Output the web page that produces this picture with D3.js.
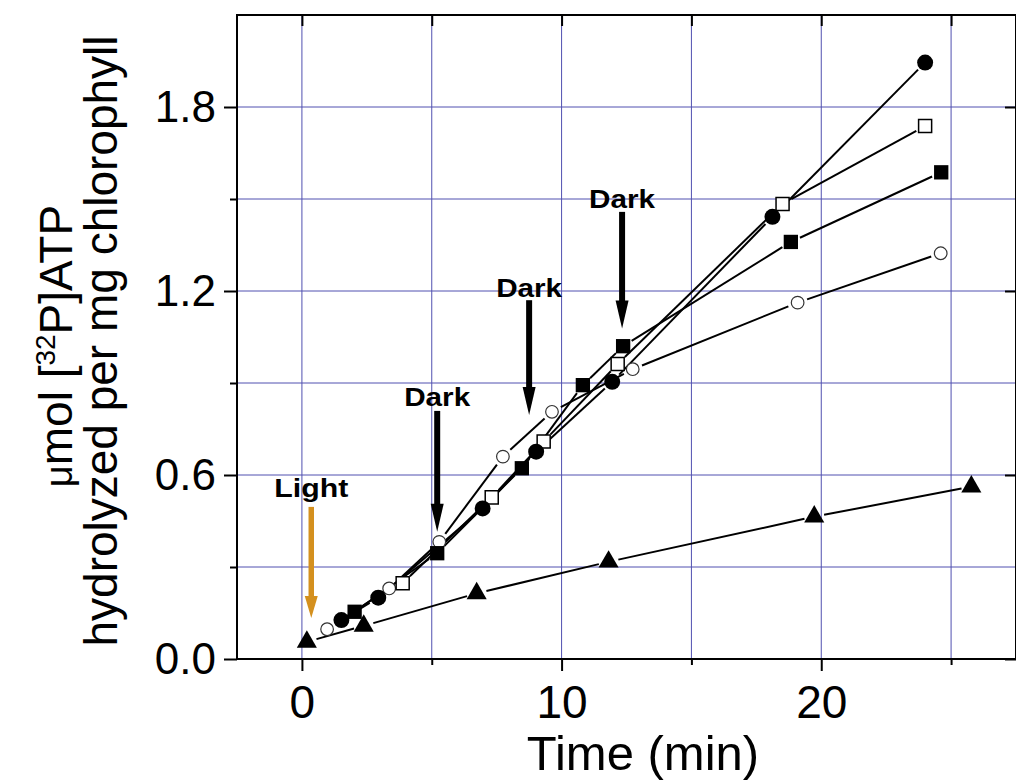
<!DOCTYPE html>
<html>
<head>
<meta charset="utf-8">
<title>ATP hydrolysis</title>
<script src="https://d3js.org/d3.v7.min.js"></script>
<style>
  html, body { margin: 0; padding: 0; background: #fff; }
  svg { display: block; }
  text { font-family: "Liberation Sans", Arial, sans-serif; fill: #000; }
</style>
</head>
<body>
<script>
  // data (time in min, umol per mg chlorophyll)
  var fCircX = [1.52, 2.94, 6.96, 9.02, 11.95, 18.12, 24.0];
  var fCircY = [0.127, 0.200, 0.491, 0.676, 0.904, 1.442, 1.945];

  var oSqX = [3.88, 7.31, 9.31, 12.16, 18.51, 24.0];
  var oSqY = [0.247, 0.527, 0.709, 0.962, 1.484, 1.738];

  var fSqX = [2.03, 5.21, 8.47, 10.82, 12.37, 18.83, 24.62];
  var fSqY = [0.154, 0.345, 0.622, 0.893, 1.020, 1.360, 1.587];

  var oCircX = [0.97, 3.36, 5.29, 7.74, 9.63, 12.74, 19.09, 24.6];
  var oCircY = [0.097, 0.230, 0.382, 0.660, 0.806, 0.945, 1.162, 1.323];

  var triX = [0.19, 2.38, 6.73, 11.81, 19.73, 25.78];
  var triY = [0.056, 0.108, 0.214, 0.317, 0.464, 0.562];

  var xMajor = [0, 10, 20];
  var xMinor = [5, 15, 25];
  var yMajor = [0, 0.6, 1.2, 1.8];
  var yMinor = [0.3, 0.9, 1.5];

  // arrows: label, x, arrow top, arrow tip, label baseline
  var arrLabel = ["Light", "Dark", "Dark", "Dark"];
  var arrX = [0.36, 5.21, 8.75, 12.33];
  var arrTop = [0.496, 0.809, 1.17, 1.458];
  var arrTip = [0.134, 0.415, 0.796, 1.078];
  var arrTextY = [0.528, 0.826, 1.18, 1.47];
  var arrColor = ["#d4901e", "#000", "#000", "#000"];

  var W = 1016, H = 780;
  var svg = d3.select("body").append("svg")
    .attr("width", W)
    .attr("height", H);

  var x = d3.scaleLinear().domain([-2.5, 27.5]).range([237, 1016]);
  var y = d3.scaleLinear().domain([0, 2.1]).range([659, 15]);

  // grid
  var gridColor = "#5050b0";
  svg.append("g").selectAll("line")
    .data(xMajor.concat(xMinor))
    .enter().append("line")
    .attr("x1", function (d) { return x(d); })
    .attr("x2", function (d) { return x(d); })
    .attr("y1", y(0)).attr("y2", y(2.1))
    .attr("stroke", gridColor).attr("stroke-width", 1);

  svg.append("g").selectAll("line")
    .data(yMajor.concat(yMinor).filter(function (d) { return d > 0; }))
    .enter().append("line")
    .attr("y1", function (d) { return y(d); })
    .attr("y2", function (d) { return y(d); })
    .attr("x1", x(-2.5)).attr("x2", x(27.5))
    .attr("stroke", gridColor).attr("stroke-width", 1);

  // axes
  function clean(g) {
    g.select(".domain").remove();
    g.selectAll(".tick line").attr("stroke", "#000").attr("stroke-width", 2);
  }

  svg.append("g").attr("transform", "translate(0," + y(0) + ")")
    .call(d3.axisBottom(x).tickValues(xMajor).tickSize(12).tickPadding(14).tickFormat(d3.format("d")))
    .call(clean)
    .selectAll("text").attr("font-size", 46).attr("font-family", "Liberation Sans, Arial, sans-serif");

  svg.append("g").attr("transform", "translate(0," + y(0) + ")")
    .call(d3.axisBottom(x).tickValues(xMinor).tickSize(6).tickFormat(""))
    .call(clean);

  svg.append("g").attr("transform", "translate(0," + y(2.1) + ")")
    .call(d3.axisTop(x).tickValues(xMajor.concat(xMinor)).tickSize(-11).tickFormat(""))
    .call(clean);

  svg.append("g").attr("transform", "translate(" + x(-2.5) + ",0)")
    .call(d3.axisLeft(y).tickValues(yMajor).tickSize(13).tickPadding(8).tickFormat(d3.format(".1f")))
    .call(clean)
    .selectAll("text").attr("font-size", 44).attr("font-family", "Liberation Sans, Arial, sans-serif");

  svg.append("g").attr("transform", "translate(" + x(-2.5) + ",0)")
    .call(d3.axisLeft(y).tickValues(yMinor).tickSize(7).tickFormat(""))
    .call(clean);

  svg.append("g").attr("transform", "translate(" + x(27.5) + ",0)")
    .call(d3.axisRight(y).tickValues(yMajor).tickSize(-11).tickFormat(""))
    .call(clean);

  // frame
  svg.append("rect")
    .attr("x", x(-2.5)).attr("y", y(2.1))
    .attr("width", x(27.5) - x(-2.5)).attr("height", y(0) - y(2.1))
    .attr("fill", "none").attr("stroke", "#000").attr("stroke-width", 2);

  // axis titles
  svg.append("text")
    .attr("x", 643).attr("y", 770)
    .attr("text-anchor", "middle")
    .attr("font-size", 49)
    .text("Time (min)");

  var t1 = svg.append("text")
    .attr("transform", "translate(72,346) rotate(-90)")
    .attr("text-anchor", "middle")
    .attr("font-size", 46);
  t1.append("tspan").attr("font-size", 38).text("\u03bc");
  t1.append("tspan").text("mol [");
  t1.append("tspan").attr("font-size", 28).attr("dy", -17).text("32");
  t1.append("tspan").attr("dy", 17).text("P]ATP");

  svg.append("text")
    .attr("transform", "translate(117,341) rotate(-90)")
    .attr("text-anchor", "middle")
    .attr("font-size", 46)
    .text("hydrolyzed per mg chlorophyll");

  // connecting lines, with a small gap at each marker
  var gap = 10;
  function drawLine(xs, ys) {
    var pts = xs.map(function (d, i) { return [x(d), y(ys[i])]; });
    var segs = [];
    for (var i = 0; i < pts.length - 1; i++) {
      var a = pts[i], b = pts[i + 1];
      var dx = b[0] - a[0], dy = b[1] - a[1];
      var len = Math.sqrt(dx * dx + dy * dy);
      if (len <= 2 * gap + 2) continue;
      var ux = dx / len, uy = dy / len;
      segs.push([a[0] + ux * gap, a[1] + uy * gap, b[0] - ux * gap, b[1] - uy * gap]);
    }
    svg.append("g").selectAll("line")
      .data(segs)
      .enter().append("line")
      .attr("x1", function (d) { return d[0]; })
      .attr("y1", function (d) { return d[1]; })
      .attr("x2", function (d) { return d[2]; })
      .attr("y2", function (d) { return d[3]; })
      .attr("stroke", "#000").attr("stroke-width", 2);
  }

  drawLine(triX, triY);
  drawLine(oCircX, oCircY);
  drawLine(fSqX, fSqY);
  drawLine(oSqX, oSqY);
  drawLine(fCircX, fCircY);

  // markers
  function drawMarks(xs, ys, type, size, fill, stroke, sw) {
    svg.append("g").selectAll("path")
      .data(xs.map(function (d, i) { return [d, ys[i]]; }))
      .enter().append("path")
      .attr("d", d3.symbol().type(type).size(size))
      .attr("transform", function (d) { return "translate(" + x(d[0]) + "," + y(d[1]) + ")"; })
      .attr("fill", fill)
      .attr("stroke", stroke)
      .attr("stroke-width", sw);
  }

  drawMarks(triX, triY, d3.symbolTriangle, 175, "#000", "none", 0);
  drawMarks(oCircX, oCircY, d3.symbolCircle, 125, "#fff", "#333", 1.2);
  drawMarks(fSqX, fSqY, d3.symbolSquare, 205, "#000", "none", 0);
  drawMarks(oSqX, oSqY, d3.symbolSquare, 170, "#fff", "#000", 1.5);
  drawMarks(fCircX, fCircY, d3.symbolCircle, 200, "#000", "none", 0);

  // Light / Dark arrows
  arrLabel.forEach(function (lab, i) {
    var px = x(arrX[i]);
    var top = y(arrTop[i]);
    var tip = y(arrTip[i]);
    var headH = i === 0 ? 22 : 28;
    svg.append("line")
      .attr("x1", px).attr("x2", px)
      .attr("y1", top).attr("y2", tip - headH + 2)
      .attr("stroke", arrColor[i]).attr("stroke-width", i === 0 ? 5.5 : 6);
    svg.append("path")
      .attr("d", "M" + (px - 6.5) + "," + (tip - headH) + "L" + (px + 6.5) + "," + (tip - headH) + "L" + px + "," + tip + "Z")
      .attr("fill", arrColor[i]);
    svg.append("text")
      .attr("x", px).attr("y", y(arrTextY[i]))
      .attr("text-anchor", "middle")
      .attr("font-size", 26)
      .attr("font-weight", "bold")
      .attr("textLength", lab === "Light" ? 74 : 66)
      .attr("lengthAdjust", "spacingAndGlyphs")
      .text(lab);
  });
</script>
</body>
</html>
